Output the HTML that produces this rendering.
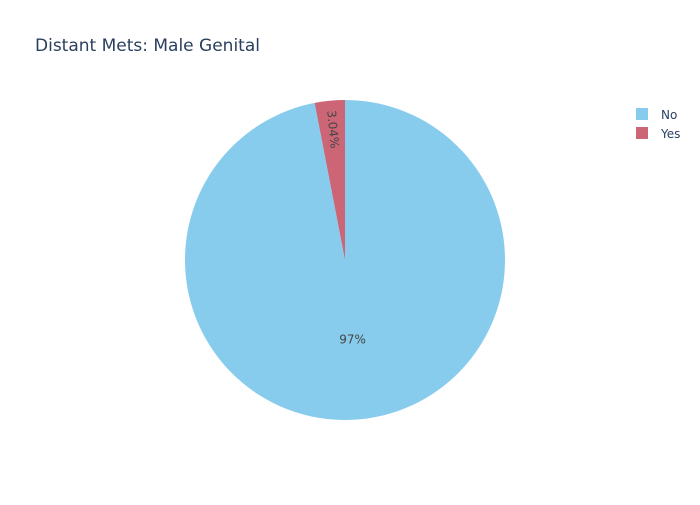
<!DOCTYPE html>
<html><head><meta charset="utf-8"><style>
body{margin:0;background:#fff;}
svg{font-family:"DejaVu Sans","Liberation Sans",sans-serif;}
</style></head><body>
<svg id="chart" width="700" height="500">
<rect width="700" height="500" fill="#fff"/>
<text x="35" y="51" font-size="17" fill="#2a3f5f">Distant Mets: Male Genital</text>
<g id="slices"></g>
<g id="legend"></g>
</svg>
<script>
const categories = ["No", "Yes"];
const values = [96.96, 3.04];
const labels = ["97%", "3.04%"];
const colors = ["#88cced", "#cc6677"];
const cx = 345, cy = 260, r = 160;
const ns = "http://www.w3.org/2000/svg";
const total = values.reduce((a,b)=>a+b,0);
const g = document.getElementById('slices');
let start = 0;
function pt(a, rr){ return [cx + rr*Math.sin(a), cy - rr*Math.cos(a)]; }
values.forEach((v,i)=>{
  const sweep = v/total*2*Math.PI;
  const a0 = start, a1 = start + sweep;
  const p0 = pt(a0,r), p1 = pt(a1,r);
  const path = document.createElementNS(ns,'path');
  path.setAttribute('d',`M${cx},${cy}L${p0[0]},${p0[1]}A${r},${r} 0 ${sweep>Math.PI?1:0} 1 ${p1[0]},${p1[1]}Z`);
  path.setAttribute('fill',colors[i]);
  
  
  g.appendChild(path);
  const mid = (a0+a1)/2;
  const t = document.createElementNS(ns,'text');
  t.setAttribute('font-size','12');
  t.setAttribute('fill','#444');
  t.setAttribute('text-anchor','middle');
  t.textContent = labels[i];
  if (sweep > 1) {
    const p = pt(mid, r*0.5);
    t.setAttribute('x',p[0]); t.setAttribute('y',p[1]+4);
  } else {
    const p = pt(mid, r*0.82);
    const deg = mid*180/Math.PI - 360 + 90;
    t.setAttribute('x',p[0]); t.setAttribute('y',p[1]);
    t.setAttribute('dominant-baseline','middle');
    t.setAttribute('transform',`rotate(${deg} ${p[0]} ${p[1]})`);
  }
  
  
  g.appendChild(t);
  start = a1;
});
const lg = document.getElementById('legend');
categories.forEach((c,i)=>{
  const y = 114 + i*19;
  const rc = document.createElementNS(ns,'rect');
  rc.setAttribute('x',636); rc.setAttribute('y',y-6);
  rc.setAttribute('width',12); rc.setAttribute('height',12);
  rc.setAttribute('fill',colors[i]);
  
  
  lg.appendChild(rc);
  const t = document.createElementNS(ns,'text');
  t.setAttribute('x',661); t.setAttribute('y',y+5);
  t.setAttribute('font-size','12'); t.setAttribute('fill','#2a3f5f');
  t.textContent = c;
  
  
  lg.appendChild(t);
});
</script>
</body></html>
